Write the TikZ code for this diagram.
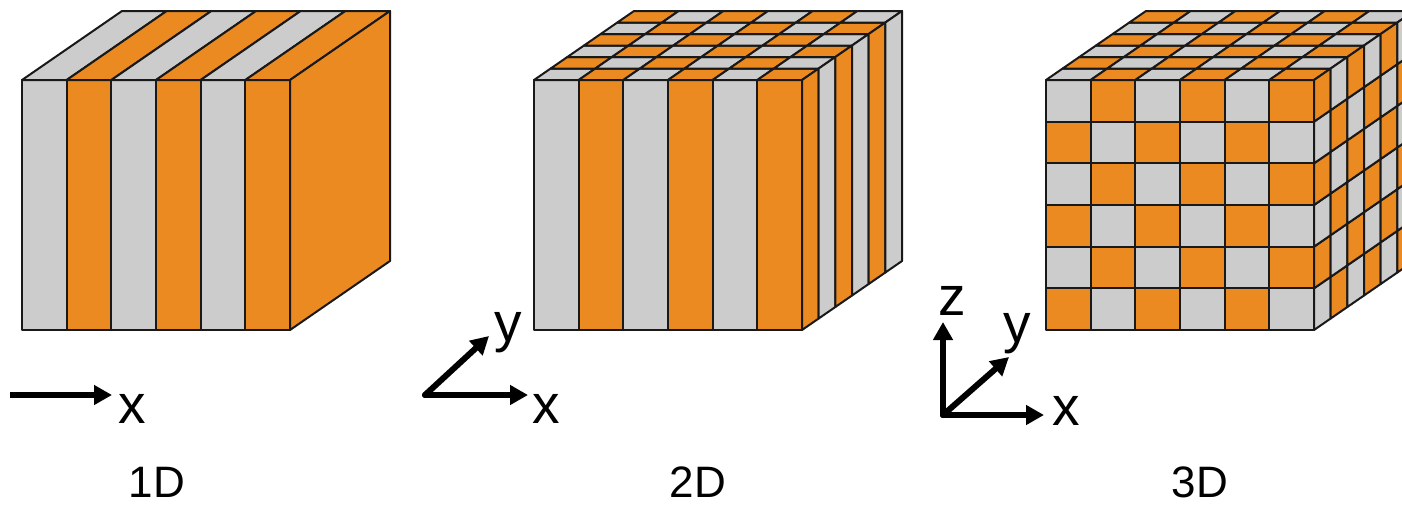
\documentclass[tikz,border=0pt]{standalone}
\usepackage{fontspec}
\setmainfont{Liberation Sans}
\usetikzlibrary{arrows.meta}
\definecolor{orng}{HTML}{EB8A21}
\definecolor{gry}{HTML}{CCCCCC}
\tikzset{
  cell/.style={draw=black!90, line width=2pt, line join=round},
  axis/.style={line width=6pt, -{Triangle[length=18pt,width=19pt]}},
  axlabel/.style={inner sep=0pt, anchor=base, font=\fontsize{55}{60}\selectfont},
  dimlabel/.style={inner sep=0pt, anchor=base, font=\fontsize{44}{50}\selectfont}
}
\newcommand{\pickcol}[1]{\ifodd\numexpr#1\relax\def\cc{orng}\else\def\cc{gry}\fi}
\begin{document}
\begin{tikzpicture}[x=1pt,y=-1pt]
\useasboundingbox (0,0) rectangle (1402,504);
\clip (0,0) rectangle (1402,504);
\def\W{44.667}\def\H{41.667}\def\dx{16.667}\def\dy{11.5}
% ---------- 1D ----------
\def\ox{22}
\foreach \i in {0,...,5}{
  \pickcol{\i}
  \filldraw[cell, fill=\cc] ({\ox+\i*\W},330) -- ({\ox+(\i+1)*\W},330) -- ({\ox+(\i+1)*\W},{330-6*\H}) -- ({\ox+\i*\W},{330-6*\H}) -- cycle;
  \filldraw[cell, fill=\cc] ({\ox+\i*\W},{330-6*\H}) -- ({\ox+(\i+1)*\W},{330-6*\H}) -- ({\ox+(\i+1)*\W+6*\dx},{330-6*\H-6*\dy}) -- ({\ox+\i*\W+6*\dx},{330-6*\H-6*\dy}) -- cycle;
}
\filldraw[cell, fill=orng] ({\ox+6*\W},330) -- ({\ox+6*\W+6*\dx},{330-6*\dy}) -- ({\ox+6*\W+6*\dx},{330-6*\H-6*\dy}) -- ({\ox+6*\W},{330-6*\H}) -- cycle;
% ---------- 2D ----------
\def\ox{534}
\foreach \i in {0,...,5}{
  \pickcol{\i}
  \filldraw[cell, fill=\cc] ({\ox+\i*\W},330) -- ({\ox+(\i+1)*\W},330) -- ({\ox+(\i+1)*\W},{330-6*\H}) -- ({\ox+\i*\W},{330-6*\H}) -- cycle;
  \foreach \j in {0,...,5}{
    \pickcol{\i+\j}
    \filldraw[cell, fill=\cc] ({\ox+\i*\W+\j*\dx},{330-6*\H-\j*\dy}) -- ({\ox+(\i+1)*\W+\j*\dx},{330-6*\H-\j*\dy}) -- ({\ox+(\i+1)*\W+(\j+1)*\dx},{330-6*\H-(\j+1)*\dy}) -- ({\ox+\i*\W+(\j+1)*\dx},{330-6*\H-(\j+1)*\dy}) -- cycle;
  }
}
\foreach \j in {0,...,5}{
  \pickcol{\j+1}
  \filldraw[cell, fill=\cc] ({\ox+6*\W+\j*\dx},{330-\j*\dy}) -- ({\ox+6*\W+(\j+1)*\dx},{330-(\j+1)*\dy}) -- ({\ox+6*\W+(\j+1)*\dx},{330-6*\H-(\j+1)*\dy}) -- ({\ox+6*\W+\j*\dx},{330-6*\H-\j*\dy}) -- cycle;
}
% ---------- 3D ----------
\def\ox{1046}
\foreach \i in {0,...,5}{
  \foreach \k in {0,...,5}{
    \pickcol{\i+\k+1}
    \filldraw[cell, fill=\cc] ({\ox+\i*\W},{330-\k*\H}) -- ({\ox+(\i+1)*\W},{330-\k*\H}) -- ({\ox+(\i+1)*\W},{330-(\k+1)*\H}) -- ({\ox+\i*\W},{330-(\k+1)*\H}) -- cycle;
  }
  \foreach \j in {0,...,5}{
    \pickcol{\i+\j}
    \filldraw[cell, fill=\cc] ({\ox+\i*\W+\j*\dx},{330-6*\H-\j*\dy}) -- ({\ox+(\i+1)*\W+\j*\dx},{330-6*\H-\j*\dy}) -- ({\ox+(\i+1)*\W+(\j+1)*\dx},{330-6*\H-(\j+1)*\dy}) -- ({\ox+\i*\W+(\j+1)*\dx},{330-6*\H-(\j+1)*\dy}) -- cycle;
  }
}
\foreach \j in {0,...,5}{
  \foreach \k in {0,...,5}{
    \pickcol{\j+\k}
    \filldraw[cell, fill=\cc] ({\ox+6*\W+\j*\dx},{330-\k*\H-\j*\dy}) -- ({\ox+6*\W+(\j+1)*\dx},{330-\k*\H-(\j+1)*\dy}) -- ({\ox+6*\W+(\j+1)*\dx},{330-(\k+1)*\H-(\j+1)*\dy}) -- ({\ox+6*\W+\j*\dx},{330-(\k+1)*\H-\j*\dy}) -- cycle;
  }
}
% ---------- axes ----------
\coordinate (a1o) at (10,395);
\coordinate (a1x) at (112,395);
\draw[axis] (a1o) -- (a1x);
\node[axlabel] (l1x) at (132,423) {x};

\coordinate (a2o) at (425,395);
\coordinate (a2x) at (528,395);
\coordinate (a2y) at (489,336);
\draw[axis, line cap=round] (a2o) -- (a2x);
\draw[axis, line cap=round] (a2o) -- (a2y);
\node[axlabel] (l2x) at (546,423) {x};
\node[axlabel] (l2y) at (508,341) {y};

\coordinate (a3o) at (943,415);
\coordinate (a3x) at (1044,415);
\coordinate (a3y) at (1009,357);
\coordinate (a3z) at (943,322);
\draw[axis, line cap=round] (a3o) -- (a3x);
\draw[axis, line cap=round] (a3o) -- (a3y);
\draw[axis, line cap=round] (a3o) -- (a3z);
\node[axlabel] (l3x) at (1066,425) {x};
\node[axlabel] (l3y) at (1017,342) {y};
\node[axlabel] (l3z) at (952,315) {z};

\node[dimlabel] (d1) at (157,497) {1D};
\node[dimlabel] (d2) at (698,497) {2D};
\node[dimlabel] (d3) at (1200,497) {3D};
\end{tikzpicture}
\end{document}
